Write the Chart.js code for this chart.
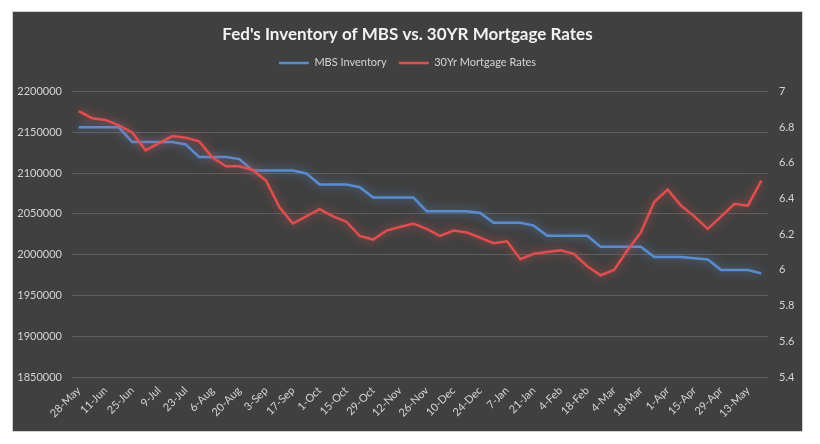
<!DOCTYPE html>
<html>
<head>
<meta charset="utf-8">
<script src="https://cdn.jsdelivr.net/npm/chart.js@4"></script>
<style>
  html, body { margin: 0; padding: 0; background: #ffffff; }
  #panel { position: absolute; left: 12px; top: 11px; width: 791px; height: 421px; background: #404040; box-sizing: border-box; border: 1px solid #d0d0d0; }
  #c { position: absolute; left: 0; top: 0; }
</style>
</head>
<body>
<div id="panel"><canvas id="c" width="789" height="419"></canvas></div>
<script>
const weeks = ["28-May","4-Jun","11-Jun","18-Jun","25-Jun","2-Jul","9-Jul","16-Jul","23-Jul","30-Jul","6-Aug","13-Aug","20-Aug","27-Aug","3-Sep","10-Sep","17-Sep","24-Sep","1-Oct","8-Oct","15-Oct","22-Oct","29-Oct","5-Nov","12-Nov","19-Nov","26-Nov","3-Dec","10-Dec","17-Dec","24-Dec","31-Dec","7-Jan","14-Jan","21-Jan","28-Jan","4-Feb","11-Feb","18-Feb","25-Feb","4-Mar","11-Mar","18-Mar","25-Mar","1-Apr","8-Apr","15-Apr","22-Apr","29-Apr","6-May","13-May","20-May"];
const shownLabels = ["28-May","11-Jun","25-Jun","9-Jul","23-Jul","6-Aug","20-Aug","3-Sep","17-Sep","1-Oct","15-Oct","29-Oct","12-Nov","26-Nov","10-Dec","24-Dec","7-Jan","21-Jan","4-Feb","18-Feb","4-Mar","18-Mar","1-Apr","15-Apr","29-Apr","13-May"];
const mbsInventory = [2156000,2156000,2156000,2156000,2138000,2138000,2138000,2138000,2135000,2119500,2119500,2119500,2117000,2103000,2103000,2103000,2103000,2099500,2086000,2086000,2086000,2082500,2070000,2070000,2070000,2070000,2053000,2053000,2053000,2053000,2051000,2039000,2039000,2039000,2035500,2023000,2023000,2023000,2023000,2009500,2009500,2009500,2009500,1997000,1997000,1997000,1995500,1994000,1981000,1981000,1981000,1977000];
const mortgageRates = [6.89,6.85,6.84,6.81,6.77,6.67,6.71,6.75,6.74,6.72,6.63,6.58,6.58,6.56,6.50,6.35,6.26,6.30,6.34,6.30,6.27,6.19,6.17,6.22,6.24,6.26,6.23,6.19,6.22,6.21,6.18,6.15,6.16,6.06,6.09,6.10,6.11,6.09,6.02,5.97,6.00,6.11,6.21,6.38,6.45,6.36,6.30,6.23,6.30,6.37,6.36,6.50];
const leftTicks = {min: 1850000, max: 2200000, step: 50000};
const rightTicks = {min: 5.4, max: 7, step: 0.2};

const BLUE = '#5a8dd0';
const RED = '#df4f4f';
const TXT = '#d4d4d4';

const glow = {
  id: 'glow',
  beforeDatasetDraw(chart, args) {
    const ctx = chart.ctx;
    ctx.save();
    const col = args.meta.dataset.options.borderColor;
    ctx.shadowColor = col === BLUE ? 'rgba(90,141,208,0.8)' : 'rgba(223,79,79,0.8)';
    ctx.shadowBlur = 10;
  },
  afterDatasetDraw(chart) { chart.ctx.restore(); }
};

const legendSpace = {
  id: 'legendSpace',
  beforeInit(chart) {
    const lg = chart.legend;
    if (!lg) return;
    const f = lg.fit;
    lg.fit = function() { f.call(this); this.height += 13; };
  }
};

new Chart(document.getElementById('c'), {
  type: 'line',
  data: {
    labels: weeks,
    datasets: [
      { label: 'MBS Inventory', data: mbsInventory, yAxisID: 'y', borderColor: BLUE, backgroundColor: BLUE, borderWidth: 2.5, pointRadius: 0, tension: 0, order: 2 },
      { label: '30Yr Mortgage Rates', data: mortgageRates, yAxisID: 'y1', borderColor: RED, backgroundColor: RED, borderWidth: 2.5, pointRadius: 0, tension: 0, order: 1 }
    ]
  },
  plugins: [glow, legendSpace],
  options: {
    responsive: false,
    animation: false,
    layout: { padding: { top: 0, left: 0, right: 0, bottom: 0 } },
    plugins: {
      title: { display: true, text: "Fed's Inventory of MBS vs. 30YR Mortgage Rates", color: '#f2f2f2', font: { family: 'Lato', size: 17, weight: 'bold' }, padding: { top: 12, bottom: 1 } },
      legend: { display: true, position: 'top', labels: { color: TXT, font: { family: 'Lato', size: 11 }, usePointStyle: true, pointStyle: 'line', pointStyleWidth: 30, boxWidth: 30, padding: 12, sort: (a, b) => a.datasetIndex - b.datasetIndex } },
      tooltip: { enabled: false }
    },
    scales: {
      x: {
        offset: true,
        grid: { display: false, drawTicks: false },
        border: { display: false },
        ticks: { color: TXT, font: { family: 'Lato', size: 11 }, autoSkip: false, maxRotation: 45, minRotation: 45, padding: 7,
          callback: function(v, i) { const l = weeks[i]; return shownLabels.includes(l) ? l : ''; } },
        afterFit: s => { s.height = 54; }
      },
      y: {
        position: 'left', min: leftTicks.min, max: leftTicks.max,
        grid: { color: '#5e5e5e', drawTicks: false, lineWidth: 1 },
        border: { display: false },
        ticks: { stepSize: leftTicks.step, color: TXT, font: { family: 'Lato', size: 11 }, padding: 10,
          callback: v => String(Math.round(v)) },
        afterFit: s => { s.width = 59; }
      },
      y1: {
        position: 'right', min: rightTicks.min, max: rightTicks.max,
        grid: { display: false, drawTicks: false },
        border: { display: false },
        ticks: { stepSize: rightTicks.step, color: TXT, font: { family: 'Lato', size: 11 }, padding: 11,
          callback: v => Number(v.toFixed(1)).toString() },
        afterFit: s => { s.width = 34; }
      }
    }
  }
});
</script>
</body>
</html>
